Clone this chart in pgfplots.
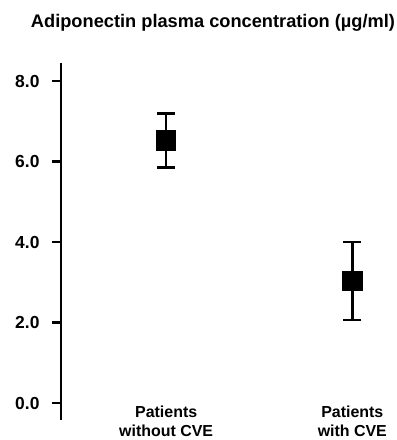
\documentclass[border=0pt]{standalone}
\usepackage{fontspec}
\setmainfont{Liberation Sans}
\usepackage{pgfplots}
\pgfplotsset{compat=1.18}
\begin{document}
\begin{tikzpicture}
\useasboundingbox (0,0) rectangle (397bp,440bp);
\node[font=\fontsize{18.3}{21}\selectfont\bfseries] at (213bp,417bp) {Adiponectin plasma concentration (µg/ml)};
\begin{axis}[
  at={(61bp,20bp)}, anchor=south west,
  scale only axis, width=336bp, height=357bp,
  xmin=-0.565, xmax=1.24, ymin=-0.42, ymax=8.45,
  axis y line=left, axis x line=bottom,
  x axis line style={draw=none},
  y axis line style={line width=2.4bp,-},
  ytick={0,2,4,6,8},
  yticklabel style={font=\fontsize{17.5}{20}\selectfont\bfseries, xshift=-9bp},
  /pgf/number format/assume math mode=true,
  /pgf/number format/.cd, fixed, fixed zerofill, precision=1, /pgfplots/.cd,
  tick align=outside,
  ytick style={line width=2.4bp, black},
  major tick length=9bp,
  xtick={0,1},
  xtick style={draw=none},
  xticklabels={Patients\\without CVE, Patients\\with CVE},
  xticklabel style={font=\fontsize{16}{20}\selectfont\bfseries, align=center, yshift=27bp},
  clip=false,
]
\addplot[black, only marks, mark=square*, mark size=9bp, line width=2.6bp,
  error bars/.cd, y dir=both, y explicit,
  error mark options={rotate=90, mark size=9bp, line width=2.6bp},
  error bar style={line width=2.6bp}]
  coordinates {
    (0,6.53) +- (0,0.67)
    (1,3.03) +- (0,0.97)
  };
\end{axis}
\end{tikzpicture}
\end{document}
